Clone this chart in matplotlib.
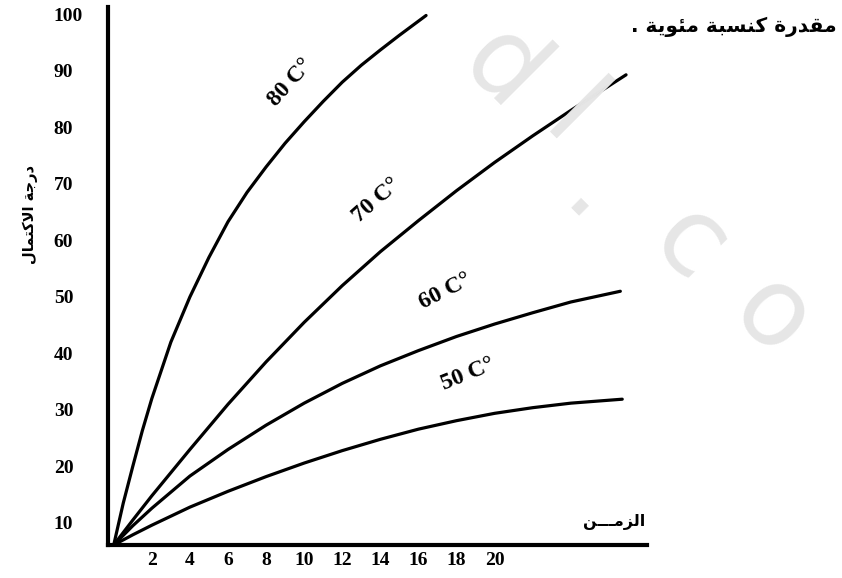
import matplotlib
matplotlib.use("Agg")
import matplotlib.pyplot as plt

# time values (x) and degree of completion (%)
x_80 = [0, 0.5, 1, 1.5, 2, 3, 4, 5, 6, 7, 8, 9, 10, 11, 12, 13, 14, 15, 16.4]
y_80 = [6.1, 13.5, 20, 26.3, 32, 42, 50, 57, 63.3, 68.5, 73, 77.2, 81, 84.6, 88, 91, 93.7, 96.3, 99.8]
x_70 = [0, 1, 2, 4, 6, 8, 10, 12, 14, 16, 18, 20, 22, 24, 26.9]
y_70 = [6.1, 10.5, 14.8, 23, 31, 38.5, 45.5, 52, 58, 63.5, 68.8, 73.8, 78.5, 83, 89.3]
x_60 = [0, 1, 2, 4, 6, 8, 10, 12, 14, 16, 18, 20, 22, 24, 26.6]
y_60 = [6.1, 9.5, 12.6, 18.3, 23, 27.3, 31.2, 34.7, 37.8, 40.5, 43, 45.2, 47.2, 49.1, 51]
x_50 = [0, 1, 2, 4, 6, 8, 10, 12, 14, 16, 18, 20, 22, 24, 26.7]
y_50 = [6.1, 7.9, 9.6, 12.8, 15.6, 18.2, 20.6, 22.8, 24.8, 26.6, 28.1, 29.4, 30.4, 31.2, 31.9]

curve_labels = ["80 C\u00b0", "70 C\u00b0", "60 C\u00b0", "50 C\u00b0"]
x_ticks = [2, 4, 6, 8, 10, 12, 14, 16, 18, 20]
y_ticks = [10, 20, 30, 40, 50, 60, 70, 80, 90, 100]

y_title = "درجة الاكتمال"
x_title = "الزمـــن"
note = "مقدرة كنسبة مئوية ."

# minimal arabic shaping (matplotlib has no text shaping): isol, fin, init, med
FORMS = {
    'ا': ('\uFE8D', '\uFE8E', None, None),
    'ب': ('\uFE8F', '\uFE90', '\uFE91', '\uFE92'),
    'ة': ('\uFE93', '\uFE94', None, None),
    'ت': ('\uFE95', '\uFE96', '\uFE97', '\uFE98'),
    'ج': ('\uFE9D', '\uFE9E', '\uFE9F', '\uFEA0'),
    'د': ('\uFEA9', '\uFEAA', None, None),
    'ر': ('\uFEAD', '\uFEAE', None, None),
    'ز': ('\uFEAF', '\uFEB0', None, None),
    'س': ('\uFEB1', '\uFEB2', '\uFEB3', '\uFEB4'),
    'ق': ('\uFED5', '\uFED6', '\uFED7', '\uFED8'),
    'ك': ('\uFED9', '\uFEDA', '\uFEDB', '\uFEDC'),
    'ل': ('\uFEDD', '\uFEDE', '\uFEDF', '\uFEE0'),
    'م': ('\uFEE1', '\uFEE2', '\uFEE3', '\uFEE4'),
    'ن': ('\uFEE5', '\uFEE6', '\uFEE7', '\uFEE8'),
    'و': ('\uFEED', '\uFEEE', None, None),
    'ي': ('\uFEF1', '\uFEF2', '\uFEF3', '\uFEF4'),
    'ئ': ('\uFE89', '\uFE8A', '\uFE8B', '\uFE8C'),
    'ـ': ('\u0640', '\u0640', '\u0640', '\u0640'),
}


def dual(c):
    return c in FORMS and FORMS[c][2] is not None


def shape(text):
    out = []
    i = 0
    n = len(text)
    while i < n:
        c = text[i]
        prev = text[i - 1] if i > 0 else None
        nxt = text[i + 1] if i + 1 < n else None
        jp = prev is not None and dual(prev)
        if c == 'ل' and nxt == 'ا':
            out.append('\uFEFC' if jp else '\uFEFB')
            i += 2
            continue
        if c not in FORMS:
            out.append(c)
            i += 1
            continue
        jn = dual(c) and nxt in FORMS
        f = FORMS[c]
        if jp and jn:
            out.append(f[3])
        elif jp:
            out.append(f[1])
        elif jn:
            out.append(f[2])
        else:
            out.append(f[0])
        i += 1
    return ''.join(reversed(out))


W, H = 842, 578
fig = plt.figure(figsize=(W / 100, H / 100), dpi=100)
ax = fig.add_axes([108 / W, (H - 545) / H, (647 - 108) / W, (545 - 7) / H])

# faint watermark
for ch, px, py in [('d', 502, 70), ('l', 571, 120), ('.', 592, 198),
                   ('c', 690, 245), ('o', 772, 318)]:
    fig.text(px / W, 1 - py / H, ch, fontsize=78, color='#e6e6e6',
             rotation=-45, ha='center', va='center', family='DejaVu Sans', zorder=0)

ax.patch.set_alpha(0)
for xs, ys in [(x_80, y_80), (x_70, y_70), (x_60, y_60), (x_50, y_50)]:
    ax.plot(xs, ys, color='black', lw=2.3, solid_capstyle='round',
            solid_joinstyle='round', clip_on=False)

ax.set_xlim(-0.3, 28.0)
ax.set_ylim(6.1, 101.3)
ax.spines['top'].set_visible(False)
ax.spines['right'].set_visible(False)
ax.spines['left'].set_linewidth(3)
ax.spines['bottom'].set_linewidth(3)

serif = dict(family='Liberation Serif', weight='bold')
ax.set_xticks(x_ticks)
ax.set_xticklabels([str(t) for t in x_ticks], fontsize=14, **serif)
ax.set_yticks(y_ticks)
ax.set_yticklabels([str(t) for t in y_ticks], fontsize=14, **serif)
ax.tick_params(length=0)
ax.tick_params(axis='x', pad=5)
ax.tick_params(axis='y', pad=39)
for lab in ax.get_yticklabels():
    lab.set_horizontalalignment('left')

# curve labels
for txt, xy, rot in zip(curve_labels, [(9.3, 88), (13.8, 67), (17.4, 51), (18.6, 36.3)],
                        [48, 41, 27, 22]):
    ax.text(xy[0], xy[1], txt, fontsize=17, rotation=rot, ha='center', va='center',
            rotation_mode='anchor', **serif)

arab = dict(family='DejaVu Sans', weight='bold')
fig.text(30 / W, 1 - 215 / H, shape(y_title), rotation=90, fontsize=10.5,
         ha='center', va='center', **arab)
fig.text(645 / W, 1 - 522 / H, shape(x_title), fontsize=11.5,
         ha='right', va='center', **arab)
fig.text(837 / W, 1 - 27 / H, shape(note), fontsize=14.5,
         ha='right', va='center', **arab)

fig.savefig('out.png', dpi=100)
